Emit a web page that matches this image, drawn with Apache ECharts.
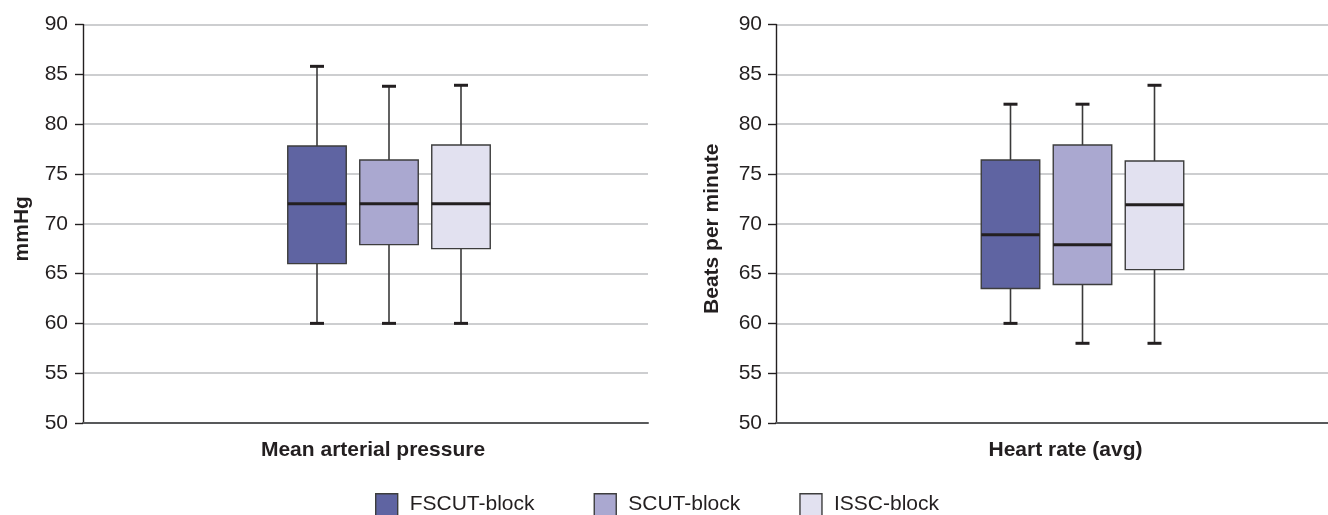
<!DOCTYPE html>
<html>
<head>
<meta charset="utf-8">
<title>Box plots</title>
<script src="https://cdn.jsdelivr.net/npm/echarts@6/dist/echarts.min.js"></script>
<style>
  html, body { margin: 0; padding: 0; background: #fff; }
  #chart { width: 1328px; height: 515px; }
</style>
</head>
<body>
<div id="chart"></div>
<script>
// legend groups
const groups = ['FSCUT-block', 'SCUT-block', 'ISSC-block'];
const groupColors = ['#5f64a2', '#aaa8d0', '#e2e1f0'];
const panelNames = ['Mean arterial pressure', 'Heart rate (avg)'];
const yNames = ['mmHg', 'Beats per minute'];
const yTicks = [50, 55, 60, 65, 70, 75, 80, 85, 90];

// [min, Q1, median, Q3, max] per group
const mapBoxes = [
  [60, 66.0, 72, 77.8, 85.8],
  [60, 67.9, 72, 76.4, 83.8],
  [60, 67.5, 72, 77.9, 83.9]
];
const hrBoxes = [
  [60, 63.5, 68.9, 76.4, 82],
  [58, 63.9, 67.9, 77.9, 82],
  [58, 65.4, 71.9, 76.3, 83.9]
];

const FONT = '"Liberation Sans", Arial, sans-serif';
const TEXT = '#231f20';

// where the three boxes sit inside the category band (pixels)
const panelLayout = [
  { shift: 23.5, spacing: 72, boxWidth: 58.5, labelPad: 15, nameGap: 50, labelMargin: 15 },
  { shift: 30.5, spacing: 72, boxWidth: 58.5, labelPad: 27, nameGap: 53, labelMargin: 14 }
];

function boxRenderer(slot, layout) {
  return function (params, api) {
    const x = api.value(0);
    const cx = api.coord([x, api.value(3)])[0] + layout.shift + (slot - 1) * layout.spacing;
    const half = layout.boxWidth / 2;
    const y = [1, 2, 3, 4, 5].map(function (d) { return api.coord([x, api.value(d)])[1]; });
    const capHalf = 7;
    const dark = '#231f20';
    return {
      type: 'group',
      children: [
        { type: 'line', shape: { x1: cx, y1: y[0], x2: cx, y2: y[1] }, style: { stroke: '#3a3a3a', lineWidth: 1.6 } },
        { type: 'line', shape: { x1: cx, y1: y[3], x2: cx, y2: y[4] }, style: { stroke: '#3a3a3a', lineWidth: 1.6 } },
        { type: 'line', shape: { x1: cx - capHalf, y1: y[0], x2: cx + capHalf, y2: y[0] }, style: { stroke: dark, lineWidth: 3 } },
        { type: 'line', shape: { x1: cx - capHalf, y1: y[4], x2: cx + capHalf, y2: y[4] }, style: { stroke: dark, lineWidth: 3 } },
        { type: 'rect', shape: { x: cx - half, y: y[3], width: layout.boxWidth, height: y[1] - y[3] },
          style: { fill: api.visual('color'), stroke: '#3d3d3d', lineWidth: 1.4 } },
        { type: 'line', shape: { x1: cx - half, y1: y[2], x2: cx + half, y2: y[2] }, style: { stroke: dark, lineWidth: 3 } }
      ]
    };
  };
}

const grids = [
  { left: 83, right: 680, top: 24.5, bottom: 92 },
  { left: 776, right: 0, top: 24.5, bottom: 92 }
];

const xAxes = panelNames.map(function (name, i) {
  return {
    type: 'category',
    gridIndex: i,
    data: [name],
    boundaryGap: true,
    axisLine: { show: true, lineStyle: { color: '#58595b', width: 2 } },
    axisTick: { show: false },
    axisLabel: {
      margin: 17, fontSize: 21, fontWeight: 'bold', fontFamily: FONT, color: TEXT,
      padding: [0, 0, 0, panelLayout[i].labelPad]
    },
    splitLine: { show: false }
  };
});

const yAxes = yNames.map(function (name, i) {
  return {
    type: 'value',
    gridIndex: i,
    min: yTicks[0],
    max: yTicks[yTicks.length - 1],
    interval: yTicks[1] - yTicks[0],
    name: name,
    nameLocation: 'middle',
    nameRotate: 90,
    nameGap: panelLayout[i].nameGap,
    nameTextStyle: { fontSize: 21, fontWeight: 'bold', fontFamily: FONT, color: TEXT, padding: [0, 10, 0, 0] },
    axisLine: { show: true, lineStyle: { color: TEXT, width: 1.4 } },
    axisTick: { show: true, length: 8, lineStyle: { color: TEXT, width: 1.4 } },
    axisLabel: { fontSize: 21, fontFamily: FONT, color: TEXT, margin: panelLayout[i].labelMargin },
    splitLine: { show: true, lineStyle: { color: '#bcbec0', width: 1.5 } }
  };
});

const series = [];
[mapBoxes, hrBoxes].forEach(function (boxes, p) {
  boxes.forEach(function (vals, g) {
    series.push({
      name: groups[g],
      type: 'custom',
      xAxisIndex: p,
      yAxisIndex: p,
      itemStyle: { color: groupColors[g] },
      encode: { x: 0, y: [1, 2, 3, 4, 5] },
      data: [[0].concat(vals)],
      renderItem: boxRenderer(g, panelLayout[p]),
      animation: false
    });
  });
});

const chart = echarts.init(document.getElementById('chart'));
chart.setOption({
  backgroundColor: '#fff',
  animation: false,
  legend: {
    data: groups,
    left: 375,
    top: 493,
    padding: 0,
    icon: 'rect',
    itemWidth: 22,
    itemHeight: 22,
    itemGap: 59,
    itemStyle: { borderColor: '#3d3d3d', borderWidth: 1.4 },
    textStyle: { fontSize: 21, fontFamily: FONT, color: TEXT, padding: [2, 0, 0, 7] }
  },
  grid: grids,
  xAxis: xAxes,
  yAxis: yAxes,
  series: series
});
window.addEventListener('resize', function () { chart.resize(); });
</script>
</body>
</html>
